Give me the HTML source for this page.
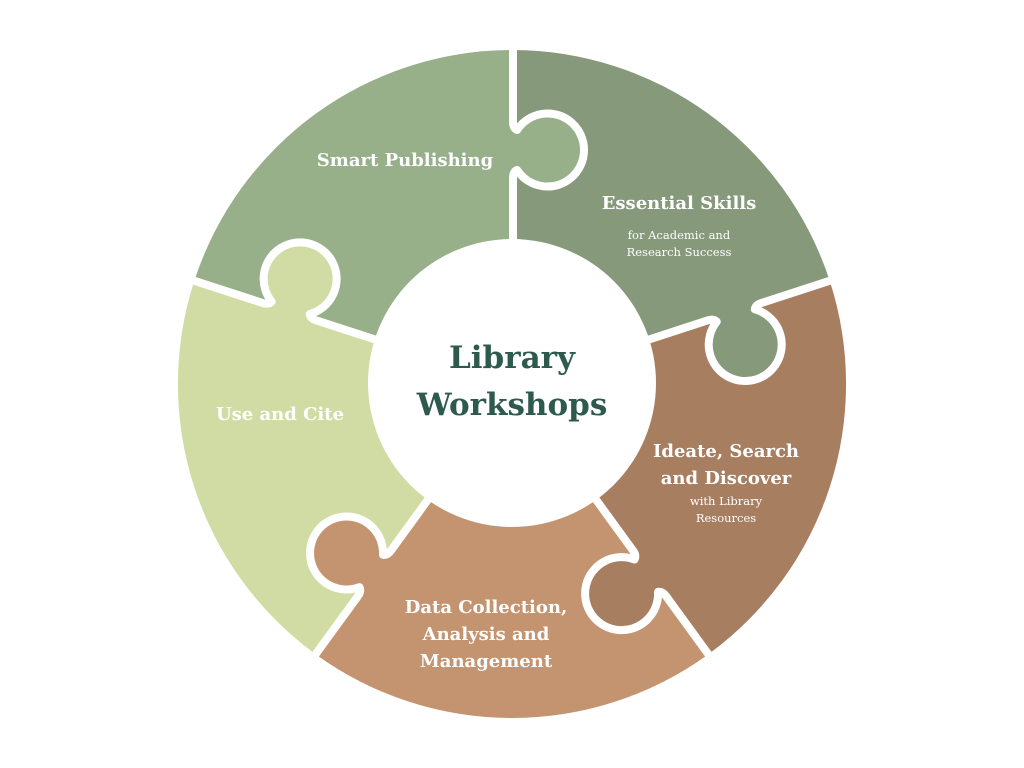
<!DOCTYPE html>
<html><head><meta charset="utf-8"><style>
html,body{margin:0;padding:0;background:#fff;}
svg{display:block;}
.t{font-family:"DejaVu Serif","Liberation Serif",serif;font-weight:bold;fill:#fff;text-anchor:middle;}
.s{font-family:"DejaVu Serif","Liberation Serif",serif;fill:#fff;text-anchor:middle;font-size:11.5px;}
</style></head><body>
<svg width="1024" height="768" viewBox="0 0 1024 768" xmlns="http://www.w3.org/2000/svg">
<rect width="1024" height="768" fill="#fff"/>
<path d="M512 384 L194.3 280.8 A334 334 0 0 1 512 50 Z" fill="#97b08a"/>
<path d="M512 384 L512 50 A334 334 0 0 1 829.7 280.8 Z" fill="#87997b"/>
<path d="M512 384 L829.7 280.8 A334 334 0 0 1 708.4 654.2 Z" fill="#a87e61"/>
<path d="M512 384 L708.4 654.2 A334 334 0 0 1 315.6 654.2 Z" fill="#c49471"/>
<path d="M512 384 L315.6 654.2 A334 334 0 0 1 194.3 280.8 Z" fill="#d0dca3"/>
<defs>
<path id="kb" d="M212 -5 L212 0 A37.5 37.5 0 1 0 256 0 L256 -5 Z"/>
<path id="bl" d="M130 0 L206 0 Q212 0 214 4 A36.5 36.5 0 1 0 254 4 Q256 0 262 0 L340 0" fill="none" stroke="#fff" stroke-width="8" stroke-linejoin="round"/>
</defs>
<g transform="translate(513,384) rotate(-90)"><use href="#kb" fill="#97b08a"/><use href="#bl"/></g>
<g transform="translate(512,384) rotate(-18)"><use href="#kb" fill="#87997b"/><use href="#bl"/></g>
<g transform="translate(512,384) rotate(54)"><use href="#kb" fill="#a87e61"/><use href="#bl"/></g>
<g transform="translate(512,384) rotate(126)"><use href="#kb" fill="#c49471"/><use href="#bl"/></g>
<g transform="translate(512,384) rotate(198)"><use href="#kb" fill="#d0dca3"/><use href="#bl"/></g>
<circle cx="512" cy="383" r="144" fill="#fff"/>
<text class="t" x="512" y="368" font-size="31" style="fill:#2e5a4e">Library</text>
<text class="t" x="512" y="415" font-size="31" style="fill:#2e5a4e">Workshops</text>
<text class="t" x="405" y="166" font-size="18">Smart Publishing</text>
<text class="t" x="679" y="209" font-size="18">Essential Skills</text>
<text class="s" x="679" y="239">for Academic and</text>
<text class="s" x="679" y="256">Research Success</text>
<text class="t" x="726" y="457" font-size="18">Ideate, Search</text>
<text class="t" x="726" y="484" font-size="18">and Discover</text>
<text class="s" x="726" y="505">with Library</text>
<text class="s" x="726" y="522">Resources</text>
<text class="t" x="486" y="613" font-size="18">Data Collection,</text>
<text class="t" x="486" y="640" font-size="18">Analysis and</text>
<text class="t" x="486" y="667" font-size="18">Management</text>
<text class="t" x="280" y="420" font-size="18">Use and Cite</text>
</svg>
</body></html>
